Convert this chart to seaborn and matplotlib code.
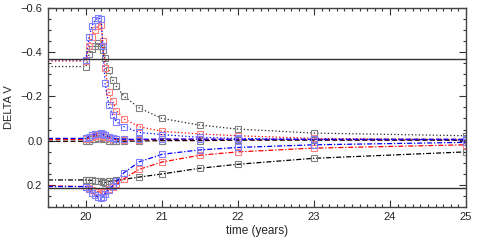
import matplotlib
matplotlib.use("Agg")
import matplotlib.pyplot as plt
from matplotlib.ticker import MultipleLocator
import seaborn as sns
import numpy as np

# time (years)
time = [19.5, 20.0, 20.04, 20.08, 20.12, 20.16, 20.2, 20.22, 20.25, 20.3, 20.35,
        20.4, 20.5, 20.7, 21.0, 21.5, 22.0, 23.0, 25.0]

# dotted group
black_dot = [-0.335, -0.335, -0.39, -0.415, -0.43, -0.44, -0.43, -0.41, -0.375, -0.32, -0.275,
             -0.245, -0.20, -0.148, -0.10, -0.07, -0.052, -0.034, -0.022]
red_dot = [-0.36, -0.36, -0.43, -0.47, -0.50, -0.52, -0.525, -0.45, -0.33, -0.22, -0.18,
           -0.135, -0.098, -0.063, -0.042, -0.03, -0.022, -0.01, -0.004]
blue_dot = [-0.365, -0.365, -0.47, -0.52, -0.545, -0.555, -0.55, -0.43, -0.26, -0.16, -0.116,
            -0.085, -0.063, -0.037, -0.027, -0.015, -0.01, -0.005, -0.003]

# dashed group
black_dash = [0.003, 0.003, 0.0, -0.005, -0.008, -0.01, -0.01, -0.008, -0.005, 0.0, 0.002,
              0.003, 0.003, 0.002, 0.0, 0.0, -0.002, -0.002, -0.002]
red_dash = [-0.005, -0.005, -0.012, -0.018, -0.022, -0.025, -0.025, -0.022, -0.018, -0.012, -0.008,
            -0.005, -0.003, -0.004, -0.005, -0.005, -0.005, -0.005, -0.005]
blue_dash = [-0.01, -0.01, -0.018, -0.024, -0.028, -0.032, -0.033, -0.03, -0.025, -0.018, -0.012,
             -0.008, -0.006, -0.006, -0.007, -0.007, -0.006, -0.006, -0.006]

# dash-dot group
black_dd = [0.178, 0.178, 0.18, 0.18, 0.182, 0.184, 0.185, 0.187, 0.19, 0.185, 0.182,
            0.18, 0.175, 0.165, 0.151, 0.125, 0.107, 0.08, 0.051]
red_dd = [0.205, 0.208, 0.215, 0.222, 0.228, 0.232, 0.233, 0.232, 0.228, 0.22, 0.21,
          0.198, 0.172, 0.13, 0.097, 0.066, 0.051, 0.034, 0.019]
blue_dd = [0.208, 0.208, 0.22, 0.235, 0.248, 0.256, 0.261, 0.255, 0.24, 0.222, 0.205,
           0.185, 0.145, 0.096, 0.062, 0.042, 0.031, 0.019, 0.008]

ref_levels = [-0.37, 0.215]

x_ticks = [20, 21, 22, 23, 24, 25]
y_ticks = [-0.6, -0.4, -0.2, 0.0, 0.2]

sns.set_style("ticks")
plt.rcParams['font.family'] = ['Liberation Sans', 'DejaVu Sans']

fig = plt.figure(figsize=(4.85, 2.42), dpi=100)
ax = fig.add_axes([0.099, 0.145, 0.862, 0.822])

dotted = (0, (1, 1.8))
dashed = (0, (4, 2))
dashdot = (0, (4, 1.5, 1, 1.5))

series = [
    (black_dot, '#222222', '#808080', dotted),
    (red_dot, 'red', '#ff8080', dotted),
    (blue_dot, 'blue', '#7f7fff', dotted),
    (black_dash, 'black', '#808080', dashed),
    (red_dash, 'red', '#ff8080', dashed),
    (blue_dash, 'blue', '#7f7fff', dashed),
    (black_dd, 'black', '#808080', dashdot),
    (red_dd, 'red', '#ff8080', dashdot),
    (blue_dd, 'blue', '#7f7fff', dashdot),
]

n = len(time)
for vals, col, mcol, ls in series:
    sns.lineplot(x=time, y=vals, ax=ax, color=col, linestyle=ls, linewidth=0.9,
                 marker='s', markersize=4.4, markerfacecolor='none',
                 markeredgecolor=mcol, markeredgewidth=0.8,
                 markevery=list(range(1, n)), sort=False, estimator=None)

for lv in ref_levels:
    ax.axhline(lv, color='#333333', linewidth=1.0)

ax.set_xlim(19.5, 25)
ax.set_ylim(0.3, -0.6)
ax.set_xticks(x_ticks)
ax.set_yticks(y_ticks)
ax.set_yticklabels(['\u22120.6', '\u22120.4', '\u22120.2', '0.0', '0.2'])
ax.xaxis.set_minor_locator(MultipleLocator(0.1))
ax.yaxis.set_minor_locator(MultipleLocator(0.05))
ax.tick_params(which='both', direction='in', top=True, right=True, labelsize=8,
               color='#333333', width=0.8)
ax.tick_params(which='major', length=5)
ax.tick_params(which='minor', length=2.5)
ax.tick_params(axis='y', pad=4)
for sp in ax.spines.values():
    sp.set_linewidth(1.0)
    sp.set_color('#444444')

ax.set_xlabel('time (years)', fontsize=8.5, labelpad=2)
ax.set_ylabel('DELTA V', fontsize=8)
ax.yaxis.set_label_coords(-0.082, 0.5)

fig.savefig('out.png', dpi=100)
